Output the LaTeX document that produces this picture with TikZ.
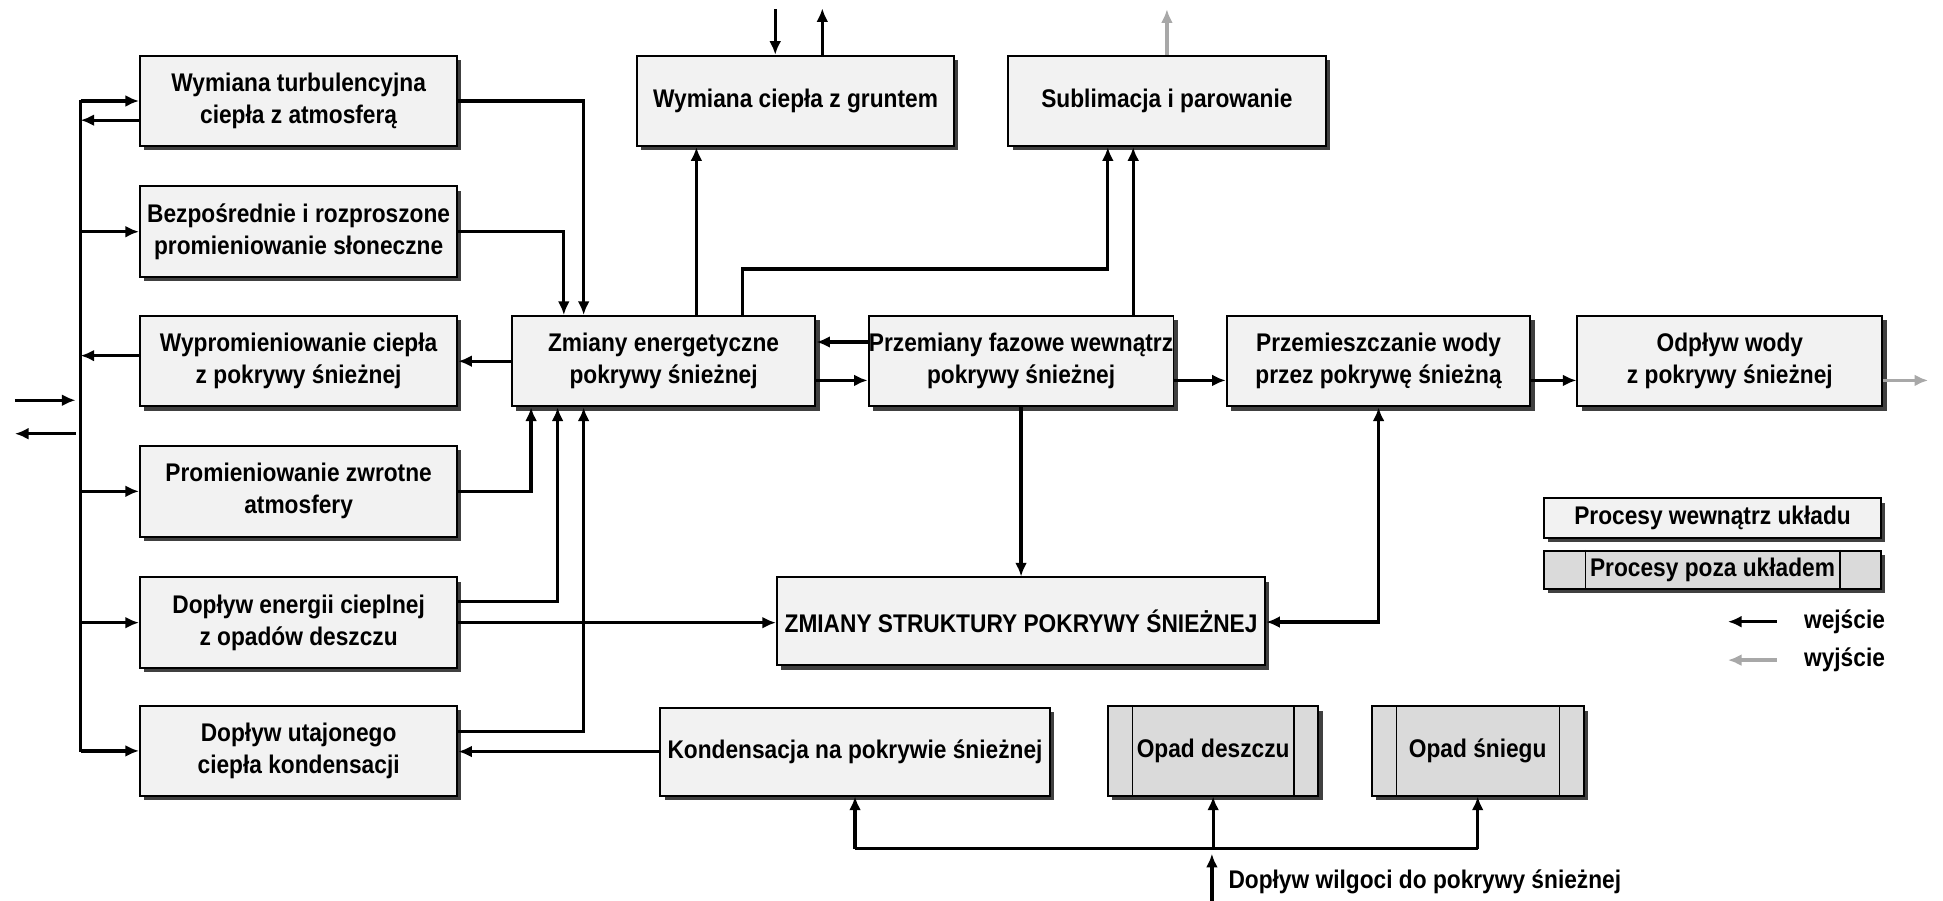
\documentclass[tikz,border=0pt]{standalone}
\usepackage{fontspec}
\setmainfont{Liberation Sans}[FakeStretch=0.89]
\usetikzlibrary{arrows.meta,shadows}
\definecolor{boxfill}{HTML}{F2F2F2}
\definecolor{outfill}{HTML}{DADADA}
\definecolor{outarr}{HTML}{A8A8A8}
\tikzset{
	txt/.style={font=\bfseries\fontsize{10.3}{12.9}\selectfont},
	box/.style={txt,draw=black,line width=0.8pt,fill=boxfill,inner sep=0pt,align=center,
		minimum height=36.5pt,minimum width=128pt,
		drop shadow={shadow xshift=1.7pt,shadow yshift=-1.7pt,fill=black!75,opacity=1}},
	obox/.style={box,fill=outfill},
	arr/.style={line width=1.3pt,-{Latex[length=5.5pt,width=4.8pt]}},
	arrs/.style={line width=1.3pt,{Latex[length=5.5pt,width=4.8pt]}-{Latex[length=5.5pt,width=4.8pt]}},
	garr/.style={arr,draw=outarr}
}

\begin{document}
\begin{tikzpicture}[x=0.5pt,y=-0.5pt]
	\useasboundingbox (0,0) rectangle (1568,727);
	\begin{scope}
		\node[box] (l1) at (241,81.5) {Wymiana turbulencyjna\\ciepła z atmosferą};
		\node[box] (l2) at (241,187) {Bezpośrednie i rozproszone\\promieniowanie słoneczne};
		\node[box] (l3) at (241,291.5) {Wypromieniowanie ciepła\\z pokrywy śnieżnej};
		\node[box] (l4) at (241,396.5) {Promieniowanie zwrotne\\atmosfery};
		\node[box] (l5) at (241,502.5) {Dopływ energii cieplnej\\z opadów deszczu};
		\node[box] (l6) at (241,606) {Dopływ utajonego\\ciepła kondensacji};
		\node[box,minimum width=122.5pt] (ze) at (535.5,291.5) {Zmiany energetyczne\\pokrywy śnieżnej};
		\node[box,minimum width=123pt] (pf) at (824,291.5) {Przemiany fazowe wewnątrz\\pokrywy śnieżnej};
		\node[box,minimum width=122.5pt] (pw) at (1112.5,291.5) {Przemieszczanie wody\\przez pokrywę śnieżną};
		\node[box,minimum width=123pt] (ow) at (1396,291.5) {Odpływ wody\\z pokrywy śnieżnej};
		\node[box] (wg) at (642,81.5) {Wymiana ciepła z gruntem};
		\node[box] (sp) at (941.7,81.5) {Sublimacja i parowanie};
		\node[box,minimum width=197pt,minimum height=35.5pt] (zs) at (824,501.5) {ZMIANY STRUKTURY POKRYWY ŚNIEŻNEJ};
		\node[box,minimum width=157pt,minimum height=35.5pt] (kn) at (690,606.5) {Kondensacja na pokrywie śnieżnej};
		\node[obox,minimum width=85pt,minimum height=36pt] (od) at (979,606) {Opad deszczu};
		\node[obox,minimum width=85.5pt,minimum height=36pt] (os) at (1192.5,606) {Opad śniegu};
		\node[box,minimum width=136pt,minimum height=15.8pt] (lg1) at (1382,418) {Procesy wewnątrz układu};
		\node[obox,minimum width=136pt,minimum height=15.5pt] (lg2) at (1382,460) {Procesy poza układem};
		\foreach \n in {od,os} {
			\draw[line width=0.5pt] ([xshift=10.25pt]\n.north west) -- ([xshift=10.25pt]\n.south west);
			\draw[line width=0.5pt] ([xshift=-10.25pt]\n.north east) -- ([xshift=-10.25pt]\n.south east);
		}
		\draw[line width=0.5pt] ([xshift=17.25pt]lg2.north west) -- ([xshift=17.25pt]lg2.south west);
		\draw[line width=0.5pt] ([xshift=-17pt]lg2.north east) -- ([xshift=-17pt]lg2.south east);

		\coordinate (bt) at (65,81);
		\coordinate (bb) at (65,607);
		\draw[line width=1.3pt] (bt) -- (bb);
		\foreach \n in {l1,l2,l4,l5,l6}
		\draw[arr] (bt |- \n.west) -- (\n.west);
		\draw[arr] (l1.west |- 0,97) -- (bt |- 0,97);
		\draw[arr] (l3.west |- 0,287) -- (bt |- 0,287);
		\coordinate (a1) at (12,323);
		\coordinate (a2) at (61,323);
		\coordinate (a3) at (61,350);
		\coordinate (a4) at (12,350);
		\draw[arr] (a1) -- (a2);
		\draw[arr] (a3) -- (a4);

		\draw[arr] (l1.east) -- (471,0 |- l1.east) -- (471,0 |- ze.north);
		\draw[arr] (l2.east) -- (455,0 |- l2.east) -- (455,0 |- ze.north);
		\draw[arr] (ze.west) -- (l3.east);
		\draw[arr] (l4.east) -- (428.6,0 |- l4.east) -- (428.6,0 |- ze.south);
		\draw[arr] (l5.east |- 0,485.6) -- (450,485.6) -- (450,0 |- ze.south);
		\draw[arr] (l5.east) -- (l5.east -| zs.west);
		\draw[arr] (l6.east |- 0,590.5) -- (471,590.5) -- (471,0 |- ze.south);
		\draw[arr] (kn.west) -- (kn.west -| l6.east);

		\draw[arr] (562,0 |- ze.north) -- (562,0 |- wg.south);
		\draw[arr] (599.5,0 |- ze.north) -- (599.5,217) -- (894,217) -- (894,0 |- sp.south);
		\draw[arr] (914.5,0 |- pf.north) -- (914.5,0 |- sp.south);
		\coordinate (gin) at (625.6,7.5);
		\coordinate (gout) at (663.6,6.7);
		\coordinate (sout) at (941.7,7.5);
		\draw[arr] (gin) -- (gin |- wg.north);
		\draw[arr] (gout |- wg.north) -- (gout);
		\draw[garr] (sp.north) -- (sout);

		\draw[arr] (pf.west |- 0,276) -- (ze.east |- 0,276);
		\draw[arr] (ze.east |- 0,307) -- (pf.west |- 0,307);
		\draw[arr] (pf.east |- 0,307) -- (pw.west |- 0,307);
		\draw[arr] (pw.east |- 0,307) -- (ow.west |- 0,307);
		\coordinate (wout) at (1556,307);
		\draw[garr] (ow.east |- wout) -- (wout);
		\draw[arr] (pf.south) -- (pf.south |- zs.north);
		\draw[arrs] (pw.south) -- (pw.south |- 0,502) -- (zs.east |- 0,502);

		\coordinate (hin) at (978,727);
		\draw[arr] (hin) -- (978,689);
		\draw[line width=1.3pt] (kn.south |- 0,685) -- (os.south |- 0,685);
		\draw[arr] (kn.south |- 0,685) -- (kn.south);
		\draw[arr] (od.south |- 0,685) -- (od.south);
		\draw[arr] (os.south |- 0,685) -- (os.south);
		\node[txt,anchor=west,inner sep=0pt] (hl) at (991,712) {Dopływ wilgoci do pokrywy śnieżnej};

		\node[txt,anchor=west,inner sep=0pt] (wej) at (1455.5,501.7) {wejście};
		\node[txt,anchor=west,inner sep=0pt] (wyj) at (1455.5,532.7) {wyjście};
		\draw[arr] ([xshift=-10.75pt]wej.west) -- ++(-19.8pt,0);
		\draw[garr] ([xshift=-10.75pt]wyj.west) -- ++(-19.8pt,0);
	\end{scope}
\end{tikzpicture}
\end{document}
